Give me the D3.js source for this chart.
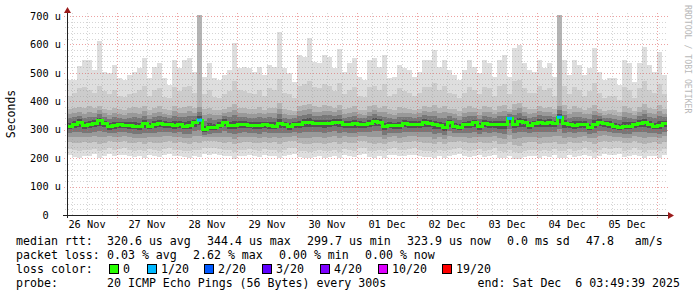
<!DOCTYPE html>
<html>
<head>
<meta charset="utf-8">
<script src="https://cdn.jsdelivr.net/npm/d3@7"></script>
<style>
  body { margin: 0; background: #fff; }
  svg { display: block; }
  text { font-family: "DejaVu Sans Mono", monospace; white-space: pre; fill: #000; }
</style>
</head>
<body>
<svg width="697" height="297"></svg>
<script>
// smokeping: 10 days, one column every 2 hours (120 columns), values in microseconds

const startTime = Date.UTC(2025, 10, 26, 4, 0);
const endTime = Date.UTC(2025, 11, 6, 4, 0);
const stepMs = 2 * 3600 * 1000;

// top of the smoke (slowest ping)
const rttMax = [
  475,475,524,545,545,510,612,504,498,528,482,475,492,504,516,552,482,522,533,482,458,545,516,545,
  551,504,720,487,533,482,475,492,510,604,516,522,516,504,522,492,528,522,645,516,498,469,563,557,
  621,539,533,563,557,516,583,504,533,551,487,475,545,551,522,563,482,487,528,516,510,487,504,545,
  545,580,522,545,510,492,475,510,545,522,498,545,533,487,545,563,487,586,598,533,510,504,545,516,
  533,487,720,545,492,545,528,492,516,586,504,475,482,482,458,545,533,469,533,592,528,504,575,492
];
const rttP90 = [
  420,430,445,450,440,430,455,435,425,440,420,415,425,430,440,455,420,440,445,415,410,450,435,450,
  455,430,720,425,440,415,410,425,435,470,440,435,430,425,440,420,445,440,480,430,425,410,455,460,
  470,450,445,460,455,435,465,425,440,450,420,415,450,455,440,460,420,425,445,435,430,420,430,450,
  450,465,440,455,430,425,410,430,450,440,425,450,445,420,455,460,425,470,475,445,430,430,455,440,
  445,420,720,455,425,450,440,420,435,465,430,410,420,420,405,450,440,410,445,470,440,430,460,425
];
const rttP75 = [
  372,378,380,375,382,376,385,374,370,378,372,368,375,380,376,384,370,378,382,372,368,385,376,380,
  385,375,720,372,378,370,368,374,380,392,378,375,372,374,380,370,378,376,395,372,370,366,384,388,
  390,382,380,386,384,376,388,372,378,382,370,368,382,386,378,384,372,370,380,376,374,370,374,382,
  380,388,376,384,374,372,366,376,382,378,372,382,380,370,384,386,372,392,395,380,374,374,384,378,
  380,372,720,386,372,382,378,370,376,388,374,366,370,370,364,382,378,366,380,390,378,374,386,372
];
const rttMedian = [
  313,319,325,314,317,322,331,322,310,316,317,316,316,313,310,322,313,319,322,320,317,316,320,313,
  316,325,334,300,308,308,316,327,316,316,317,320,316,316,314,317,316,313,322,317,310,318,319,325,
  327,322,322,321,323,326,324,319,319,321,319,319,322,330,327,310,316,314,314,322,320,319,320,325,
  322,318,314,308,325,313,308,317,319,325,310,322,319,319,317,317,340,320,328,325,314,322,325,322,
  325,322,344,322,317,316,320,319,308,319,327,322,319,313,308,313,313,317,322,325,319,313,316,322
];
const rttP25 = [
  258,255,252,256,254,258,250,255,262,256,258,260,255,252,256,250,258,254,252,258,262,255,256,252,
  250,256,255,262,260,262,258,254,256,248,254,256,258,255,252,258,254,256,248,256,260,262,252,250,
  248,252,254,250,252,256,248,258,254,252,260,262,252,250,254,250,258,260,254,256,258,260,256,252,
  252,248,256,250,256,258,262,256,252,254,258,252,254,260,250,248,256,246,244,252,256,256,250,254,
  252,258,250,250,258,252,254,260,256,248,256,262,258,260,262,252,254,260,254,248,254,256,250,258
];
const rttP10 = [
  232,228,226,230,228,232,224,230,236,230,232,234,228,226,230,224,232,228,226,232,236,230,230,226,
  224,230,228,236,234,236,232,228,230,222,228,230,232,228,226,232,228,230,222,230,234,236,226,224,
  222,226,228,224,226,230,222,232,228,226,234,236,226,224,228,224,232,234,228,230,232,234,230,226,
  226,222,230,224,230,232,236,230,226,228,232,226,228,234,224,222,230,220,218,226,230,230,224,228,
  226,232,224,224,232,226,228,234,230,222,230,236,232,234,236,226,228,234,228,222,228,230,224,232
];
// bottom of the smoke (fastest ping)
const rttMin = [
  212,204,202,208,206,214,200,206,216,208,212,210,206,204,208,200,210,206,204,212,216,206,208,204,
  200,208,204,216,212,214,210,206,208,198,206,208,210,206,204,210,206,208,200,208,212,214,204,202,
  200,204,206,202,204,208,200,210,206,204,212,214,204,202,206,202,210,212,206,208,210,212,208,204,
  204,200,208,202,208,210,214,208,204,206,210,204,206,212,202,200,208,198,196,204,208,208,202,206,
  204,210,202,202,210,204,206,212,208,200,208,214,210,212,214,204,206,212,206,200,206,208,202,210
];
// lost pings out of 20, per column
const lossCount = new Array(120).fill(0);
lossCount[26] = 1; lossCount[88] = 1; lossCount[98] = 1;

const yTicks = [0, 100, 200, 300, 400, 500, 600, 700];
const lossSteps = [0, 1, 2, 3, 4, 10, 19];
const lossLabels = ["0", "1/20", "2/20", "3/20", "4/20", "10/20", "19/20"];
const lossColors = ["#26ff00", "#00b8ff", "#0059ff", "#5e00ff", "#7e00ff", "#dd00ff", "#ff0000"];

const svg = d3.select("svg");

const x = d3.scaleUtc()
  .domain([new Date(startTime), new Date(endTime)])
  .range([67, 667]);

const y = d3.scaleLinear()
  .domain([0, 703.5])
  .range([215, 15]);

const times = rttMedian.map((d, i) => new Date(startTime + i * stepMs));
const colW = x(new Date(startTime + stepMs)) - x(new Date(startTime));

// smoke, outer layers first
const layers = [
  { lo: rttMin, hi: rttMax, color: "#dedede" },
  { lo: rttP10, hi: rttP90, color: "#cccccc" },
  { lo: rttP25, hi: rttP75, color: "#b4b4b4" }
];
// darker core towards the median (spikes do not drag it up)
const core = [
  { t: 0.3, color: "#999999" },
  { t: 0.55, color: "#777777" },
  { t: 0.8, color: "#525252" }
];
core.forEach(c => {
  layers.push({
    lo: rttP25.map((v, i) => v + (rttMedian[i] - v) * c.t),
    hi: rttP75.map((v, i) => Math.min(v, 400) + (rttMedian[i] - Math.min(v, 400)) * c.t),
    color: c.color
  });
});

const smoke = svg.append("g").attr("shape-rendering", "crispEdges");
layers.forEach(layer => {
  smoke.append("g")
    .selectAll("rect")
    .data(times)
    .join("rect")
    .attr("x", d => x(d))
    .attr("width", colW)
    .attr("y", (d, i) => y(Math.min(layer.hi[i], 703.5)))
    .attr("height", (d, i) => y(layer.lo[i]) - y(Math.min(layer.hi[i], 703.5)))
    .attr("fill", layer.color);
});

// grid
const grid = svg.append("g").attr("shape-rendering", "crispEdges");
const minorX = d3.utcHour.every(6).range(new Date(startTime), new Date(endTime))
  .filter(d => d.getUTCHours() !== 0);
const majorX = d3.utcDay.range(new Date(startTime), new Date(endTime));
const minorY = d3.range(20, 704, 20).filter(v => v % 100 !== 0);

grid.selectAll(".gx").data(minorX).join("line")
  .attr("x1", d => Math.round(x(d)) + 0.5).attr("x2", d => Math.round(x(d)) + 0.5)
  .attr("y1", 13).attr("y2", 217)
  .attr("stroke", "rgba(150,150,150,0.4)").attr("stroke-dasharray", "1,2");
grid.selectAll(".gy").data(minorY).join("line")
  .attr("y1", d => Math.round(y(d)) + 0.5).attr("y2", d => Math.round(y(d)) + 0.5)
  .attr("x1", 65).attr("x2", 668)
  .attr("stroke", "rgba(150,150,150,0.4)").attr("stroke-dasharray", "1,2");
grid.selectAll(".mx").data(majorX).join("line")
  .attr("x1", d => Math.round(x(d)) + 0.5).attr("x2", d => Math.round(x(d)) + 0.5)
  .attr("y1", 13).attr("y2", 218)
  .attr("stroke", "rgba(220,70,70,0.5)").attr("stroke-dasharray", "1,2");
grid.selectAll(".my").data(yTicks.filter(v => v > 0)).join("line")
  .attr("y1", d => Math.round(y(d)) + 0.5).attr("y2", d => Math.round(y(d)) + 0.5)
  .attr("x1", 64).attr("x2", 668)
  .attr("stroke", "rgba(220,70,70,0.5)").attr("stroke-dasharray", "1,2");

// median rtt line, coloured by loss
const medPts = times.map((t, i) => [t, rttMedian[i]]);
medPts.push([new Date(endTime), rttMedian[rttMedian.length - 1]]);
svg.append("path")
  .datum(medPts)
  .attr("fill", "none")
  .attr("stroke", lossColors[0])
  .attr("stroke-width", 3)
  .attr("shape-rendering", "crispEdges")
  .attr("d", d3.line().x(d => x(d[0])).y(d => y(d[1])).curve(d3.curveStepAfter));

const lossColor = n => {
  let c = lossColors[0];
  lossSteps.forEach((s, j) => { if (n >= s) c = lossColors[j]; });
  return c;
};
svg.append("g").selectAll("rect")
  .data(times.map((t, i) => ({ t, v: rttMedian[i], n: lossCount[i] })).filter(d => d.n > 0))
  .join("rect")
  .attr("x", d => x(d.t))
  .attr("width", colW)
  .attr("y", d => y(d.v) - 1.5)
  .attr("height", 3)
  .attr("fill", d => lossColor(d.n));

// axes
const axisCol = "#222";
svg.append("line").attr("x1", 63).attr("x2", 669).attr("y1", 215.5).attr("y2", 215.5)
  .attr("stroke", axisCol);
svg.append("line").attr("x1", 67.5).attr("x2", 67.5).attr("y1", 12).attr("y2", 218)
  .attr("stroke", axisCol);
svg.append("path").attr("d", "M64,13 L71,13 L67.5,7 Z").attr("fill", "#9b1c1c");
svg.append("path").attr("d", "M668,212 L668,219 L674,215.5 Z").attr("fill", "#9b1c1c");

// y labels
svg.append("g").selectAll("text")
  .data(yTicks)
  .join("text")
  .attr("x", 61)
  .attr("y", d => y(d))
  .attr("dy", "0.36em")
  .attr("text-anchor", "end")
  .style("font-size", "10.3px")
  .text(d => d === 0 ? "0  " : d + " u");

// x labels at noon
const noons = majorX.map(d => new Date(+d + 12 * 3600 * 1000)).filter(d => +d < endTime);
noons.unshift(new Date(Date.UTC(2025, 10, 26, 12)));
svg.append("g").selectAll("text")
  .data(noons)
  .join("text")
  .attr("x", d => x(d))
  .attr("y", 228)
  .attr("text-anchor", "middle")
  .style("font-size", "10.3px")
  .text(d3.utcFormat("%d %b"));

svg.append("text")
  .attr("transform", "translate(15,114) rotate(-90)")
  .attr("text-anchor", "middle")
  .style("font-size", "11.5px")
  .text("Seconds");

svg.append("text")
  .attr("transform", "translate(685,5) rotate(90)")
  .style("font-size", "8.2px")
  .style("fill", "#b8b8b8")
  .text("RRDTOOL / TOBI OETIKER");

// legend
const legend = svg.append("g").style("font-size", "11.6px");
const legendItems = [
  [16, 245, "median rtt:"], [107, 245, "320.6 us avg"], [207, 245, "344.4 us max"],
  [307, 245, "299.7 us min"], [407, 245, "323.9 us now"], [507, 245, "0.0 ms sd"],
  [586, 245, "47.8   am/s"],
  [16, 259, "packet loss:"], [107, 259, "0.03 % avg"], [193, 259, "2.62 % max"],
  [279, 259, "0.00 % min"], [365, 259, "0.00 % now"],
  [16, 273, "loss color:"],
  [16, 287, "probe:"], [107, 287, "20 ICMP Echo Pings (56 Bytes) every 300s"]
];
legend.selectAll(".li").data(legendItems).join("text")
  .attr("x", d => d[0]).attr("y", d => d[1]).text(d => d[2]);
legend.append("text").attr("x", 680).attr("y", 287).attr("text-anchor", "end")
  .text("end: Sat Dec  6 03:49:39 2025");

const boxX = [109, 147, 204, 262, 320, 378, 442];
lossLabels.forEach((lab, j) => {
  legend.append("rect")
    .attr("x", boxX[j] + 0.5).attr("y", 264.5).attr("width", 9).attr("height", 9)
    .attr("fill", lossColors[j]).attr("stroke", "#000");
  legend.append("text").attr("x", boxX[j] + 14).attr("y", 273).text(lab);
});
</script>
</body>
</html>
